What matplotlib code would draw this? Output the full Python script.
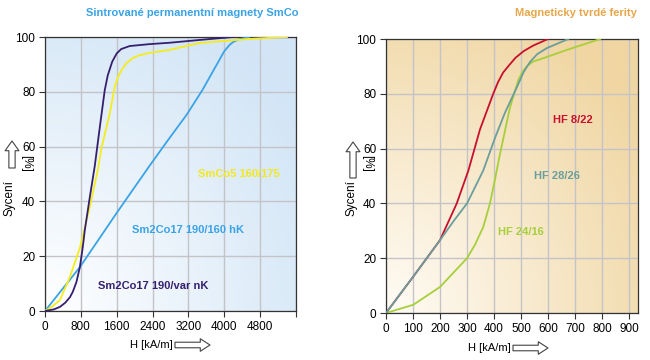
import numpy as np
import matplotlib
matplotlib.use("Agg")
import matplotlib.pyplot as plt
from matplotlib.colors import LinearSegmentedColormap

plt.rcParams['font.family'] = ['Liberation Sans', 'DejaVu Sans']

# --- data: sintered SmCo magnets (H in kA/m, saturation in %)
h_var_nk = [0, 200, 333, 450, 555, 620, 700, 778, 840, 889, 1000, 1111, 1222, 1333, 1400, 1500,
            1600, 1700, 1889, 2333, 2778, 3500, 4200]
s_var_nk = [0, 0.6, 1.5, 3, 5, 7, 10.5, 16, 23, 29.6, 41.6, 53, 67, 80.6, 86, 91,
            94, 95.6, 96.7, 97.4, 97.9, 99, 100]

h_smco5 = [0, 150, 333, 555, 778, 1000, 1178, 1267, 1444, 1555, 1630, 1711, 1820, 1955, 2100,
           2333, 2778, 3444, 4555, 5400]
s_smco5 = [0, 1.5, 4, 12.4, 23, 38, 51.5, 60, 72, 81.7, 85.5, 88, 90.5, 92.3, 93.3,
           94.2, 95.3, 97.8, 99.3, 100]

h_hk = [0, 778, 1600, 2333, 2750, 3155, 3511, 3889, 4000, 4111, 4200, 4333, 4555]
s_hk = [0, 16, 35.8, 53, 62.5, 71.5, 80.6, 91.6, 94.8, 97, 98.2, 99.2, 100]

# --- data: hard ferrites
h_822 = [0, 101, 200, 262, 305, 348, 397, 415, 434, 459, 480, 510, 545, 600]
s_822 = [0, 13.3, 26.6, 40, 52, 67, 80, 84.3, 87.8, 90.8, 93.2, 95.6, 97.6, 100]

h_2826 = [0, 101, 200, 250, 300, 360, 404, 440, 485, 510, 533, 560, 596, 675]
s_2826 = [0, 13.3, 26.6, 33.5, 40, 52, 64, 73, 82.5, 88, 91.6, 94.5, 96.7, 100]

h_2416 = [0, 101, 200, 300, 330, 360, 385, 404, 422, 459, 490, 505, 521, 545, 583, 669, 793]
s_2416 = [0, 3, 9.5, 20, 25, 31.4, 40, 49, 58, 75, 85, 88, 90, 91.8, 93, 96, 100]

y_ticks = [0, 20, 40, 60, 80, 100]
x_ticks_left = [0, 800, 1600, 2400, 3200, 4000, 4800, 5600]
x_labels_left = ['0', '800', '1600', '2400', '3200', '4000', '4800', '']
x_ticks_right = list(range(0, 1000, 100))

fig = plt.figure(figsize=(6.5, 3.6), dpi=100)
W, H = 650, 360
ax1 = fig.add_axes([45 / W, 1 - 311 / H, 251 / W, 274 / H])
ax2 = fig.add_axes([386 / W, 1 - 313 / H, 252 / W, 274 / H])


def gradient_bg(ax, xmax, c0, c1):
    u = np.linspace(0, 1, 200)
    gx, gy = np.meshgrid(u, u)
    g = np.clip(np.sqrt((gx ** 2 + gy ** 2) / 2) * 1.15, 0, 1)
    cmap = LinearSegmentedColormap.from_list('bg', [c0, c1])
    ax.imshow(g, extent=[0, xmax, 0, 100], origin='lower', aspect='auto',
              cmap=cmap, zorder=0, interpolation='bilinear')


def style(ax, xmax, xticks, xlabels):
    ax.set_xlim(0, xmax)
    ax.set_ylim(0, 100)
    ax.set_xticks(xticks)
    ax.set_xticklabels(xlabels)
    ax.set_yticks(y_ticks)
    ax.grid(True, color='#c4c4c8', lw=1.0, zorder=1)
    ax.tick_params(direction='out', length=4, width=0.8, colors='#333333',
                   labelsize=8.5, labelcolor='black', pad=3)
    for sp in ax.spines.values():
        sp.set_color('#333333')
        sp.set_linewidth(0.9)


gradient_bg(ax1, 5600, '#ffffff', '#d2e5f6')
ax1.plot(h_hk, s_hk, color='#3aa3e6', lw=1.3, zorder=3)
ax1.plot(h_smco5, s_smco5, color='#f5ec1c', lw=1.3, zorder=3)
ax1.plot(h_var_nk, s_var_nk, color='#35206e', lw=1.3, zorder=4)
style(ax1, 5600, x_ticks_left, x_labels_left)

ax1.text(4333, 50, 'SmCo5 160/175', color='#f2e81c', fontsize=8, fontweight='bold', ha='center', va='center')
ax1.text(3200, 29.6, 'Sm2Co17 190/160 hK', color='#3aa3e6', fontsize=8, fontweight='bold', ha='center', va='center')
ax1.text(2422, 9.1, 'Sm2Co17 190/var nK', color='#35206e', fontsize=8, fontweight='bold', ha='center', va='center')

gradient_bg(ax2, 933, '#fffcf6', '#f0d6a2')
ax2.plot(h_2416, s_2416, color='#a6cf3a', lw=1.3, zorder=3)
ax2.plot(h_822, s_822, color='#c8102e', lw=1.3, zorder=3)
ax2.plot(h_2826, s_2826, color='#6a9e9c', lw=1.3, zorder=4)
style(ax2, 933, x_ticks_right, [str(v) for v in x_ticks_right])

ax2.text(693, 70.4, 'HF 8/22', color='#c8102e', fontsize=8, fontweight='bold', ha='center', va='center')
ax2.text(633, 50, 'HF 28/26', color='#6a9e9c', fontsize=8, fontweight='bold', ha='center', va='center')
ax2.text(500, 29.6, 'HF 24/16', color='#a6cf3a', fontsize=8, fontweight='bold', ha='center', va='center')

# titles
fig.text(192 / W, 1 - 13 / H, 'Sintrované permanentní magnety SmCo', color='#3aa3e6',
         fontsize=8, fontweight='bold', ha='center', va='center')
fig.text(637 / W, 1 - 13 / H, 'Magneticky tvrdé ferity', color='#e8a64a',
         fontsize=8, fontweight='bold', ha='right', va='center')

# axis labels with hollow arrows
arrow_v = dict(arrowstyle='simple,head_length=0.7,head_width=1.0,tail_width=0.45',
               fc='white', ec='#444444', lw=0.8, shrinkA=0, shrinkB=0)
arrow_h = dict(arrowstyle='simple,head_length=0.7,head_width=0.9,tail_width=0.4',
               fc='white', ec='#444444', lw=0.8, shrinkA=0, shrinkB=0)
for (sx, bx, px, ay0, ay1) in [(10, 12, 26, 192, 219), (352, 353, 367, 182, 218)]:
    fig.text(sx / W, 1 - 198 / H, 'Sycení', rotation=90, fontsize=8.5, ha='center', va='center')
    fig.text(px / W, 1 - 163 / H, '[%]', rotation=270, fontsize=8.5, ha='center', va='center')
    fig.add_artist(plt.Annotation('', xy=(bx, ay1), xytext=(bx, ay0), xycoords='figure pixels',
                                  textcoords='figure pixels', arrowprops=arrow_v))

for (lx, ax0, ax1_, ly) in [(130, 175, 210, 345), (468, 513, 548, 348)]:
    fig.text(lx / W, 1 - ly / H, 'H [kA/m]', fontsize=8, ha='left', va='center')
    fig.add_artist(plt.Annotation('', xy=(ax1_, H - ly), xytext=(ax0, H - ly), xycoords='figure pixels',
                                  textcoords='figure pixels', arrowprops=arrow_h))

fig.savefig('out.png', dpi=100)
